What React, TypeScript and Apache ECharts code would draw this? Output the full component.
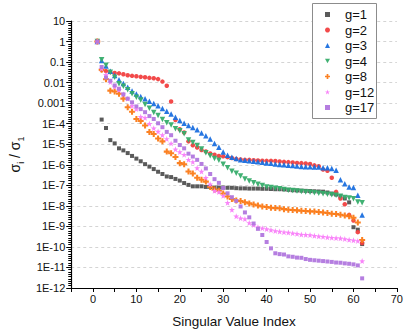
import React, { useEffect, useRef } from "react";
import * as echarts from "echarts";

// log10(σi/σ1), for singular value index 1..62
const g1Log = [0, -3.80, -4.21, -4.80, -4.96, -5.20, -5.30, -5.43, -5.57, -5.70, -5.83, -5.97, -6.09, -6.21, -6.34, -6.45, -6.57, -6.60, -6.69, -6.77, -6.89, -6.98, -7.05, -7.05, -7.05, -7.08, -7.08, -7.11, -7.11, -7.11, -7.12, -7.12, -7.14, -7.15, -7.15, -7.16, -7.16, -7.16, -7.17, -7.17, -7.18, -7.19, -7.19, -7.20, -7.22, -7.24, -7.25, -7.26, -7.27, -7.28, -7.29, -7.30, -7.31, -7.35, -7.40, -7.45, -7.52, -7.64, -7.83, -9.04, -9.16, -9.86];
const g2Log = [0, -1.38, -1.44, -1.49, -1.53, -1.55, -1.59, -1.64, -1.67, -1.69, -1.72, -1.74, -1.77, -1.79, -1.83, -1.95, -2.15, -2.92, -3.82, -4.27, -4.43, -4.86, -5.05, -5.16, -5.28, -5.35, -5.45, -5.51, -5.57, -5.59, -5.63, -5.67, -5.72, -5.74, -5.76, -5.76, -5.78, -5.79, -5.80, -5.81, -5.81, -5.82, -5.84, -5.86, -5.87, -5.89, -5.91, -5.92, -5.94, -5.96, -6.03, -6.07, -6.23, -6.29, -6.63, -7.32, -7.64, -7.92, -8.44, -8.71, -9.28, -9.81];
const g3Log = [0, -0.92, -1.19, -1.45, -1.65, -1.86, -2.04, -2.23, -2.41, -2.55, -2.68, -2.79, -2.91, -3.02, -3.13, -3.26, -3.40, -3.53, -3.69, -3.84, -3.98, -4.09, -4.19, -4.29, -4.45, -4.59, -4.75, -4.96, -5.15, -5.38, -5.54, -5.63, -5.70, -5.75, -5.78, -5.80, -5.83, -5.85, -5.88, -5.91, -5.93, -5.96, -5.99, -6.00, -6.02, -6.04, -6.06, -6.09, -6.10, -6.10, -6.11, -6.11, -6.15, -6.15, -6.18, -6.27, -6.73, -6.92, -7.08, -7.11, -7.48, -8.44];
const g4Log = [0, -0.89, -1.16, -1.49, -1.74, -2.06, -2.18, -2.35, -2.54, -2.71, -2.85, -3.06, -3.25, -3.45, -3.60, -3.79, -3.96, -4.06, -4.25, -4.34, -4.49, -4.79, -4.92, -5.06, -5.23, -5.41, -5.56, -5.70, -5.78, -5.97, -6.15, -6.31, -6.41, -6.55, -6.69, -6.79, -6.88, -6.95, -7.01, -7.08, -7.11, -7.14, -7.17, -7.21, -7.24, -7.25, -7.28, -7.30, -7.32, -7.34, -7.36, -7.39, -7.41, -7.43, -7.46, -7.48, -7.53, -7.59, -7.62, -7.66, -7.81, -7.85];
const g8Log = [0, -1.37, -1.84, -2.39, -2.43, -2.54, -2.78, -3.20, -3.42, -3.77, -3.87, -4.09, -4.40, -4.50, -4.72, -4.86, -5.36, -5.44, -5.62, -5.92, -5.97, -6.33, -6.42, -6.63, -6.73, -6.82, -7.08, -7.21, -7.27, -7.40, -7.54, -7.67, -7.74, -7.76, -7.82, -7.88, -7.93, -7.98, -8.03, -8.06, -8.09, -8.11, -8.12, -8.16, -8.19, -8.20, -8.22, -8.24, -8.25, -8.27, -8.28, -8.30, -8.32, -8.35, -8.38, -8.40, -8.43, -8.47, -8.51, -8.58, -8.81, -9.66];
const g12Log = [0, -1.32, -1.62, -1.97, -2.19, -2.36, -2.57, -2.78, -3.13, -3.29, -3.66, -3.71, -4.00, -4.22, -4.38, -4.55, -4.74, -4.96, -5.25, -5.38, -5.51, -5.75, -5.86, -6.16, -6.33, -6.63, -6.95, -7.27, -7.33, -7.51, -7.85, -8.19, -8.51, -8.60, -8.64, -8.83, -8.93, -9.04, -9.09, -9.13, -9.18, -9.22, -9.25, -9.28, -9.30, -9.33, -9.36, -9.40, -9.41, -9.42, -9.46, -9.48, -9.50, -9.53, -9.55, -9.57, -9.58, -9.61, -9.65, -9.68, -9.71, -10.69];
const g17Log = [0, -1.24, -1.75, -1.91, -2.14, -2.30, -2.57, -2.78, -2.96, -3.16, -3.29, -3.44, -3.63, -3.77, -3.98, -4.17, -4.40, -4.56, -4.83, -5.04, -5.20, -5.46, -5.60, -5.76, -5.96, -6.18, -6.45, -6.70, -6.88, -7.13, -7.39, -7.58, -7.76, -8.03, -8.32, -8.56, -8.86, -9.12, -9.42, -9.76, -10.07, -10.31, -10.35, -10.37, -10.46, -10.48, -10.52, -10.53, -10.59, -10.63, -10.65, -10.67, -10.69, -10.71, -10.73, -10.76, -10.77, -10.80, -10.82, -10.85, -10.90, -11.53];

const seriesNames = ["g=1", "g=2", "g=3", "g=4", "g=8", "g=12", "g=17"];
const seriesLogs = [g1Log, g2Log, g3Log, g4Log, g8Log, g12Log, g17Log];
const seriesColors = ["#515151", "#F14040", "#1A6FDF", "#37AD6B", "#FB7A17", "#F97DF9", "#B177DE"];
const seriesSymbols = [
  "rect",
  "circle",
  "triangle",
  "path://M0,0L10,0L5,8.66Z",
  "path://M3.3,0H6.7V3.3H10V6.7H6.7V10H3.3V6.7H0V3.3H3.3Z",
  "path://M5,0L6.18,3.38L9.76,3.45L6.9,5.62L7.94,9.05L5,7L2.06,9.05L3.1,5.62L0.24,3.45L3.82,3.38Z",
  "rect",
];
const seriesSizes = [4, 4.5, 5.5, 5.5, 6, 6, 4];

// axis ranges: x is linear, y axis is in decades (log10 of the ratio)
const xTicks = { min: -5, max: 70, step: 5 };
const yDecades = { min: -12, max: 1, step: 1 };

const FONT = "'Liberation Sans', Arial, sans-serif";

function yLabel(e: number): string {
  const n = Math.round(e);
  if (n >= 0) return String(Math.pow(10, n));
  if (n >= -3) return "0." + "0".repeat(-n - 1) + "1";
  return "1E" + n;
}

export default function App() {
  const ref = useRef<HTMLDivElement>(null);
  useEffect(() => {
    if (!ref.current) return;
    const chart = echarts.init(ref.current, null, { renderer: "svg" });
    chart.setOption({
      animation: false,
      backgroundColor: "#fff",
      grid: { left: 64, right: 8, top: 21, bottom: 42, containLabel: false },
      graphic: [
        {
          type: "rect",
          left: 312,
          top: 3,
          shape: { width: 64, height: 115 },
          style: { fill: "#fff", stroke: "#8c8c8c", lineWidth: 1 },
          z: 3,
        },
      ],
      legend: {
        orient: "vertical",
        left: 312,
        top: 3,
        padding: [5, 0, 0, 13],
        itemWidth: 5,
        itemHeight: 5,
        itemGap: 2.5,
        borderWidth: 0,
        z: 5,
        data: seriesNames,
        textStyle: { fontSize: 13, color: "#111", fontFamily: FONT, padding: [0, 0, 0, 10], lineHeight: 13 },
      },
      xAxis: {
        type: "value",
        min: xTicks.min,
        max: xTicks.max,
        interval: xTicks.step,
        name: "Singular Value Index",
        nameLocation: "middle",
        nameGap: 26,
        nameTextStyle: { fontSize: 13.5, color: "#111", fontFamily: FONT },
        axisLine: { onZero: false, lineStyle: { color: "#000", width: 1.2 } },
        axisTick: { show: true, length: 4, lineStyle: { color: "#000" } },
        axisLabel: {
          fontSize: 11,
          color: "#111",
          fontFamily: FONT,
          margin: 5,
          formatter: (v: number) => (v % 10 === 0 ? String(v) : ""),
        },
        splitLine: { show: false },
      },
      yAxis: {
        type: "value",
        min: yDecades.min,
        max: yDecades.max,
        interval: yDecades.step,
        name: "{a|σ}{s|i}{a| / σ}{s|1}",
        nameLocation: "middle",
        nameGap: 40,
        nameRotate: 90,
        nameTextStyle: {
          color: "#111",
          fontFamily: FONT,
          rich: {
            a: { fontSize: 14, color: "#111", fontFamily: FONT, verticalAlign: "bottom", lineHeight: 16 },
            s: { fontSize: 9, color: "#111", fontFamily: FONT, verticalAlign: "bottom", lineHeight: 12, padding: [0, 0, -3, 0] },
          },
        },
        axisLine: { show: true, onZero: false, lineStyle: { color: "#000", width: 1.2 } },
        axisTick: { show: true, length: 5, lineStyle: { color: "#000" } },
        minorTick: { show: true, splitNumber: 9, length: 3, lineStyle: { color: "#000" } },
        axisLabel: { fontSize: 11, color: "#111", fontFamily: FONT, margin: 6, formatter: yLabel },
        splitLine: { show: true, lineStyle: { color: "#d4d4d4", type: [3, 3], width: 1 } },
      },
      series: seriesNames.map((name, s) => ({
        name,
        type: "scatter",
        symbol: seriesSymbols[s],
        symbolSize: seriesSizes[s],
        itemStyle: { color: seriesColors[s], opacity: 0.95 },
        data: seriesLogs[s].map((e, k) => [k + 1, e]),
      })),
    });
    return () => chart.dispose();
  }, []);
  return (
    <div
      ref={ref}
      style={{ width: 406, height: 333, position: "fixed", left: 0, top: 0 }}
    />
  );
}
